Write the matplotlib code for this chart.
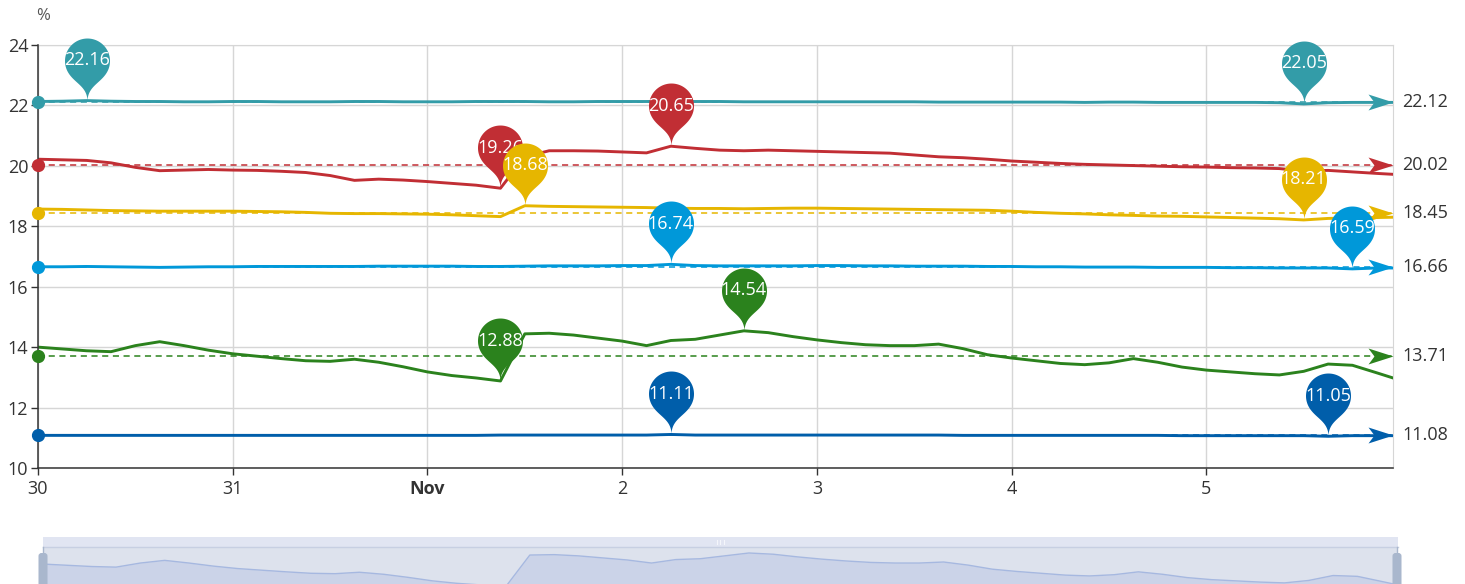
import numpy as np
import matplotlib.pyplot as plt
from matplotlib.path import Path
from matplotlib.patches import Rectangle, FancyBboxPatch

plt.rcParams['font.family'] = ['Open Sans', 'DejaVu Sans']

# hours since Oct 30 00:00, a reading every 3 hours (last one at 23:00 Nov 5)
hours = list(range(0, 166, 3)) + [167]

red = [20.22, 20.20, 20.18, 20.10, 19.95, 19.84, 19.86, 19.88, 19.86, 19.85,
       19.82, 19.78, 19.68, 19.52, 19.56, 19.53, 19.48, 19.42, 19.36, 19.26,
       20.30, 20.50, 20.50, 20.49, 20.46, 20.43, 20.65, 20.58, 20.52, 20.50,
       20.52, 20.50, 20.48, 20.46, 20.44, 20.42, 20.36, 20.30, 20.27, 20.22,
       20.16, 20.12, 20.08, 20.05, 20.03, 20.01, 19.99, 19.97, 19.96, 19.94,
       19.93, 19.91, 19.83, 19.85, 19.80, 19.75, 19.72]
yellow = [18.57, 18.56, 18.54, 18.52, 18.51, 18.50, 18.50, 18.50, 18.50, 18.49,
          18.48, 18.46, 18.43, 18.42, 18.42, 18.41, 18.40, 18.38, 18.35, 18.32,
          18.68, 18.66, 18.65, 18.64, 18.63, 18.62, 18.60, 18.59, 18.59, 18.58,
          18.59, 18.60, 18.60, 18.59, 18.58, 18.57, 18.56, 18.55, 18.54, 18.53,
          18.50, 18.46, 18.43, 18.41, 18.38, 18.36, 18.34, 18.33, 18.31, 18.29,
          18.27, 18.25, 18.21, 18.26, 18.28, 18.29, 18.30]
blue = [16.66, 16.66, 16.67, 16.66, 16.65, 16.64, 16.65, 16.66, 16.66, 16.67,
        16.67, 16.67, 16.67, 16.67, 16.68, 16.68, 16.68, 16.68, 16.67, 16.67,
        16.68, 16.69, 16.69, 16.69, 16.70, 16.70, 16.74, 16.70, 16.69, 16.69,
        16.69, 16.69, 16.70, 16.70, 16.69, 16.69, 16.68, 16.68, 16.68, 16.67,
        16.67, 16.66, 16.66, 16.65, 16.65, 16.65, 16.64, 16.64, 16.64, 16.63,
        16.63, 16.62, 16.62, 16.62, 16.59, 16.62, 16.62]
green = [14.00, 13.94, 13.88, 13.85, 14.05, 14.18, 14.05, 13.90, 13.78, 13.70,
         13.62, 13.55, 13.53, 13.60, 13.50, 13.35, 13.18, 13.06, 12.98, 12.88,
         14.44, 14.46, 14.40, 14.30, 14.20, 14.05, 14.22, 14.26, 14.40, 14.54,
         14.48, 14.35, 14.24, 14.15, 14.08, 14.05, 14.05, 14.10, 13.95, 13.75,
         13.64, 13.55, 13.46, 13.42, 13.48, 13.62, 13.50, 13.34, 13.24, 13.18,
         13.12, 13.08, 13.20, 13.44, 13.40, 13.15, 12.98]
navy = [11.08, 11.08, 11.08, 11.08, 11.08, 11.08, 11.08, 11.08, 11.08, 11.08,
        11.08, 11.08, 11.08, 11.08, 11.08, 11.08, 11.08, 11.08, 11.08, 11.09,
        11.09, 11.09, 11.09, 11.09, 11.09, 11.09, 11.11, 11.09, 11.09, 11.09,
        11.09, 11.09, 11.09, 11.09, 11.09, 11.09, 11.09, 11.09, 11.08, 11.08,
        11.08, 11.08, 11.08, 11.08, 11.08, 11.08, 11.08, 11.07, 11.07, 11.07,
        11.07, 11.07, 11.07, 11.05, 11.07, 11.07, 11.07]
teal = [22.13, 22.14, 22.16, 22.14, 22.13, 22.13, 22.12, 22.12, 22.13, 22.13,
        22.12, 22.12, 22.12, 22.13, 22.13, 22.12, 22.12, 22.12, 22.13, 22.13,
        22.13, 22.12, 22.12, 22.13, 22.13, 22.13, 22.14, 22.13, 22.13, 22.12,
        22.12, 22.12, 22.12, 22.12, 22.12, 22.12, 22.12, 22.11, 22.11, 22.11,
        22.11, 22.11, 22.11, 22.10, 22.11, 22.11, 22.10, 22.10, 22.10, 22.10,
        22.10, 22.09, 22.05, 22.09, 22.10, 22.10, 22.10]

all_series = [red, yellow, blue, green, navy, teal]
averages = [20.02, 18.45, 16.66, 13.71, 11.08, 22.12]
colors = ['#c12e34', '#e6b600', '#0098d9', '#2b821d', '#005eaa', '#339ca8']

day_ticks = [0, 24, 48, 72, 96, 120, 144]
day_labels = ['30', '31', 'Nov', '2', '3', '4', '5']
y_ticks = [10, 12, 14, 16, 18, 20, 22, 24]

W, H, DPI = 1465, 584, 100
PX = 72.0 / DPI  # points per pixel


def pin_path(r=22.5, h=73.0):
    # same construction as the echarts 'pin' symbol, tip at the origin
    dy = r * r / (h - r)
    cy = h - r - dy
    ang = np.arcsin(dy / r)
    dx = np.cos(ang) * r
    ty = cy - dy
    tx, tyn = np.sin(ang), np.cos(ang)
    cp1, cp2 = r * 0.6, r * 0.7
    t = np.linspace(-ang, np.pi + ang, 60)
    arc = np.column_stack([np.cos(t) * r, cy + np.sin(t) * r])
    s = np.linspace(0, 1, 20)[:, None]

    def bez(p0, p1, p2, p3):
        p0, p1, p2, p3 = map(np.array, (p0, p1, p2, p3))
        return ((1 - s) ** 3 * p0 + 3 * (1 - s) ** 2 * s * p1
                + 3 * (1 - s) * s ** 2 * p2 + s ** 3 * p3)

    left = bez((-dx, ty), (-dx + tx * cp1, ty - tyn * cp1), (0, cp2), (0, 0))
    right = bez((0, 0), (0, cp2), (dx - tx * cp1, ty - tyn * cp1), (dx, ty))
    verts = np.vstack([arc, left[1:], right[1:-1], arc[:1]])
    return Path(verts, closed=True), cy, cy + r


pin, pin_cy, pin_top = pin_path()
pin_ms = 2 * pin_top * PX
arrow = Path([(0, 0), (-25, 8), (-19, 0), (-25, -8), (0, 0)], closed=True)
arrow_ms = 2 * 25 * PX

fig = plt.figure(figsize=(W / DPI, H / DPI), dpi=DPI)
ax = fig.add_axes([38 / W, 1 - 468 / H, (1393 - 38) / W, (468 - 45) / H])

for i, (vals, avg, c) in enumerate(zip(all_series, averages, colors)):
    ax.plot(hours, vals, color=c, lw=2.1, zorder=3, solid_joinstyle='round')
    # average mark line
    ax.plot([hours[0], hours[-1]], [avg, avg], color=c, lw=1.1,
            linestyle=(0, (4, 3)), zorder=2)
    ax.plot(hours[0], avg, 'o', color=c, ms=8.5, zorder=4, clip_on=False)
    ax.plot(hours[-1], avg, marker=arrow, color=c, ms=arrow_ms, mew=0,
            zorder=4, clip_on=False)
    ax.annotate(f'{avg:.2f}', xy=(1, avg), xycoords=ax.get_yaxis_transform(),
                xytext=(6.5, 0), textcoords='offset points', ha='left',
                va='center', fontsize=13, color='#333333')
    # max / min pins
    for k in (int(np.argmax(vals)), int(np.argmin(vals))):
        z = 5 + i * 0.1
        ax.plot(hours[k], vals[k], marker=pin, color=c, ms=pin_ms, mew=0,
                zorder=z, clip_on=False)
        ax.annotate(f'{vals[k]:.2f}', xy=(hours[k], vals[k]),
                    xytext=(0, pin_cy * PX), textcoords='offset points',
                    ha='center', va='center', fontsize=13, color='white',
                    zorder=z + 0.05, annotation_clip=False)

ax.set_xlim(hours[0], hours[-1])
ax.set_ylim(10, 24)
ax.set_xticks(day_ticks)
ax.set_xticklabels(day_labels)
ax.get_xticklabels()[2].set_fontweight('bold')
ax.set_yticks(y_ticks)
ax.grid(True, color='#d6d6d6', lw=1.0, zorder=0)
ax.tick_params(axis='both', length=5, width=1.0, color='#333333',
               labelcolor='#333333', labelsize=13)
ax.tick_params(axis='x', pad=4)
ax.tick_params(axis='y', pad=2)
for side in ('left', 'bottom'):
    ax.spines[side].set_color('#333333')
    ax.spines[side].set_linewidth(1.1)
    ax.spines[side].set_zorder(3.5)
for side in ('top', 'right'):
    ax.spines[side].set_color('#d6d6d6')

# data zoom slider with the shadow of the green series
ax2 = fig.add_axes([43 / W, 1 - 587 / H, (1398 - 43) / W, 40 / H])
ax2.set_facecolor('#dde2ed')
lo, hi = min(green), max(green)
ax2.fill_between(hours, green, lo - 1, color='#cbd3e8', lw=0)
ax2.plot(hours, green, color='#a6b8e0', lw=1.0)
ax2.set_xlim(hours[0], hours[-1])
ax2.set_ylim(lo, lo + (hi - lo) * 40 / 34)
ax2.set_xticks([])
ax2.set_yticks([])
for sp in ax2.spines.values():
    sp.set_visible(False)

# pixel overlay for slider chrome and unit label
ov = fig.add_axes([0, 0, 1, 1], zorder=5)
ov.set_xlim(0, W)
ov.set_ylim(H, 0)
ov.axis('off')
ov.add_patch(Rectangle((43, 537), 1355, 10, color='#e1e5f2', lw=0))
ov.plot([43, 1398], [547, 547], color='#c7cfe2', lw=1.0)
for x in (716.5, 720, 723.5):
    ov.plot([x, x], [539.5, 544], color='#f4f6fb', lw=0.8)
for x in (43, 1397):
    ov.plot([x, x], [547, 554], color='#a9b7cd', lw=1.0)
    ov.add_patch(FancyBboxPatch((x - 4.5, 553), 9, 34,
                                boxstyle='round,pad=0,rounding_size=3',
                                color='#a9b7cd', lw=0))
ov.text(43, 16, '%', ha='center', va='center', fontsize=12, color='#555555')

fig.savefig('out.png', dpi=DPI)
